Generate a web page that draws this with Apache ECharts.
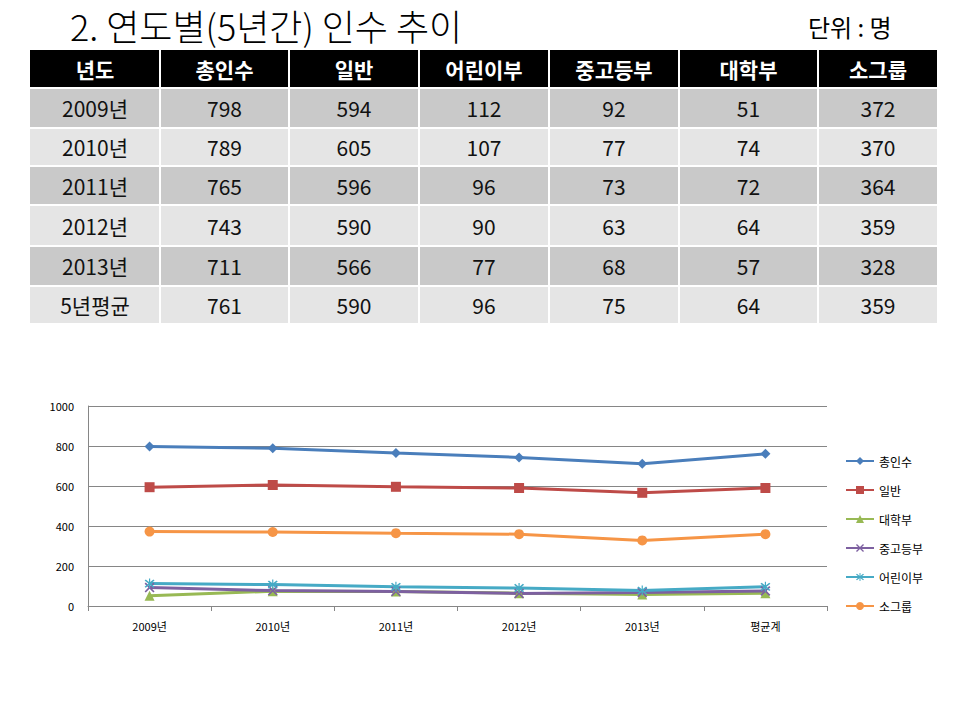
<!DOCTYPE html>
<html><head><meta charset="utf-8">
<script src="https://cdn.jsdelivr.net/npm/echarts@6/dist/echarts.min.js"></script>
<style>html,body{margin:0;padding:0;background:#fff}#c{width:960px;height:720px}</style>
</head><body><div id="c"></div>
<script>
// ---- data ----
const tableHeaders = ['년도','총인수','일반','어린이부','중고등부','대학부','소그룹'];
const tableYears = ['2009년','2010년','2011년','2012년','2013년','5년평균'];
const chartCategories = ['2009년','2010년','2011년','2012년','2013년','평균계'];
const total = [798,789,765,743,711,761];
const general = [594,605,596,590,566,590];
const children = [112,107,96,90,77,96];
const youth = [92,77,73,63,68,75];
const college = [51,74,72,64,57,64];
const smallGroup = [372,370,364,359,328,359];
const yTicks = [0,200,400,600,800,1000];

// ---- layout ----
const colX = [30,160,289,419,549,679,818,938];
const rowY = [50,88,128,166,205,246,286,324];
const FONT = '"Noto Sans CJK KR", "Noto Sans", sans-serif';

const tableCols = [tableYears, total, general, children, youth, college, smallGroup];
const graphics = [];
graphics.push({type:'text', x:70, y:25, style:{text:'2. 연도별(5년간) 인수 추이', font:'300 36px '+FONT, lineHeight:40, verticalAlign:'middle', fill:'#000'}});
graphics.push({type:'text', x:808, y:26, style:{text:'단위 : 명', font:'24px '+FONT, verticalAlign:'middle', fill:'#000'}});
for (let r = 0; r < rowY.length - 1; r++) {
  for (let c = 0; c < colX.length - 1; c++) {
    const x0 = colX[c] + (c === 0 ? 0 : 1), x1 = colX[c+1] - 1;
    const y0 = rowY[r] + (r === 0 ? 0 : 1), y1 = rowY[r+1] - 1;
    let fill = r === 0 ? '#000' : (r % 2 === 1 ? '#c9c9c9' : '#e5e5e5');
    graphics.push({type:'rect', shape:{x:x0, y:y0, width:x1-x0, height:y1-y0}, style:{fill:fill}, silent:true});
    const txt = r === 0 ? tableHeaders[c] : String(tableCols[c][r-1]);
    graphics.push({type:'text', x:(colX[c]+colX[c+1])/2, y:(rowY[r]+rowY[r+1])/2,
      style:{text:txt, align:'center', verticalAlign:'middle',
        font:(r===0?'bold ':'')+'21px '+FONT, fill: r===0?'#fff':'#111'}});
  }
}

const xPath = 'path://M0,1.2L1.2,0L5,3.8L8.8,0L10,1.2L6.2,5L10,8.8L8.8,10L5,6.2L1.2,10L0,8.8L3.8,5Z';
const starPath = 'path://M0,1.2L1.2,0L5,3.8L8.8,0L10,1.2L6.2,5L10,8.8L8.8,10L5,6.2L1.2,10L0,8.8L3.8,5ZM4.4,-1L5.6,-1L5.6,11L4.4,11Z';

function mk(name, data, color, symbol, size) {
  return {name:name, type:'line', data:data, symbol:symbol, symbolSize:size,
    lineStyle:{color:color, width:3}, itemStyle:{color:color}, emphasis:{disabled:true}, z:2};
}
const series = [
  mk('총인수', total, '#4A7EBB', 'diamond', 10),
  mk('일반', general, '#BE4B48', 'rect', 10),
  mk('대학부', college, '#98B954', 'triangle', 10),
  mk('중고등부', youth, '#7D60A0', xPath, 10),
  mk('어린이부', children, '#46AAC5', starPath, 10),
  mk('소그룹', smallGroup, '#F69546', 'circle', 10)
];

const chart = echarts.init(document.getElementById('c'), null, {renderer:'svg'});
chart.setOption({
  animation:false,
  backgroundColor:'#fff',
  textStyle:{fontFamily:FONT},
  graphic:graphics,
  grid:{left:88, right:133, top:406, bottom:114, containLabel:false},
  legend:{orient:'vertical', left:840, top:450, itemWidth:28, itemHeight:10, itemGap:17,
    textStyle:{fontSize:12, color:'#000', fontFamily:FONT},
    data:series.map(s=>s.name)},
  xAxis:{type:'category', data:chartCategories, boundaryGap:true,
    axisLine:{lineStyle:{color:'#868686', width:1}},
    axisTick:{show:true, alignWithLabel:false, length:5, lineStyle:{color:'#868686'}},
    axisLabel:{fontSize:11, color:'#000', margin:14}},
  yAxis:{type:'value', min:yTicks[0], max:yTicks[yTicks.length-1], interval:200,
    axisLine:{show:true, lineStyle:{color:'#868686'}},
    axisTick:{show:false},
    splitLine:{lineStyle:{color:'#868686', width:1}},
    axisLabel:{fontSize:11, color:'#000', margin:14, formatter:function(v){return String(v);}}},
  series:series
});
</script></body></html>
